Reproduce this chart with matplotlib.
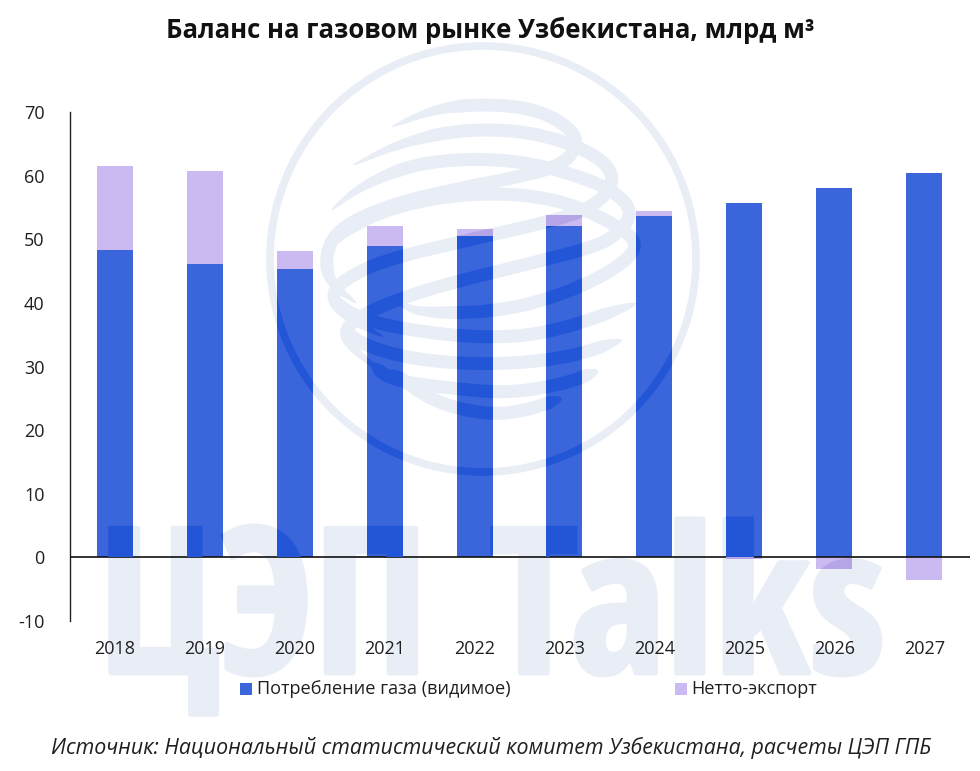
import numpy as np
import matplotlib
matplotlib.use('Agg')
import matplotlib.pyplot as plt
import matplotlib.patheffects as pe
from matplotlib.font_manager import FontProperties
from matplotlib.patches import Circle, PathPatch, Polygon
from matplotlib.path import Path
from matplotlib.text import TextPath
from matplotlib.transforms import Affine2D, IdentityTransform

years = ['2018', '2019', '2020', '2021', '2022', '2023', '2024', '2025', '2026', '2027']
consumption = [48.3, 46.1, 45.3, 48.9, 50.5, 52.1, 53.7, 55.7, 58.1, 60.4]
net_export = [13.2, 14.6, 2.9, 3.2, 1.1, 1.7, 0.7, -0.25, -1.8, -3.55]
y_ticks = [-10, 0, 10, 20, 30, 40, 50, 60, 70]

BLUE = '#3B66DB'
PURPLE = '#CBB9F1'
WM_LIGHT = '#E8EDF6'
WM_DARK = '#2356D6'
WM_PURPLE = '#B5A5E6'
TEXT = '#1F1F1F'
W, H = 980, 771

plt.rcParams['font.family'] = ['Open Sans', 'DejaVu Sans']
plt.rcParams['axes.unicode_minus'] = False

fig = plt.figure(figsize=(W / 100, H / 100), dpi=100)
ax = fig.add_axes([69.5 / W, 1 - 621 / H, (970 - 69.5) / W, (621 - 112) / H])
ax.patch.set_alpha(0)

x = np.arange(len(years))
ax.set_xlim(-0.505, 9.51)
ax.set_ylim(-10, 70)

bars_c = ax.bar(x, consumption, width=0.4, color=BLUE, zorder=2)
bottoms = [c if n > 0 else 0 for c, n in zip(consumption, net_export)]
bars_n = ax.bar(x, net_export, width=0.4, bottom=bottoms, color=PURPLE, zorder=2)

for s in ['top', 'right', 'bottom']:
    ax.spines[s].set_visible(False)
ax.spines['left'].set_color('#222222')
ax.spines['left'].set_linewidth(1)
ax.axhline(0, color='#111111', lw=1.2, zorder=6)
ax.set_yticks(y_ticks)
ax.set_xticks([])
ax.tick_params(axis='y', length=0, pad=18, labelsize=13, labelcolor=TEXT)

# подписи годов ниже области графика
to_px = Affine2D().scale(1, -1).translate(0, H)
for xi, year in zip(x, years):
    fig.text(xi * 90 + 115, 649, year, transform=to_px, ha='center', va='center',
             fontsize=13, color=TEXT)

fig.text(490, 30, 'Баланс на газовом рынке Узбекистана, млрд м³', transform=to_px,
         ha='center', va='center', fontsize=18.5, fontweight='bold', color='#111111')
fig.text(491, 748, 'Источник: Национальный статистический комитет Узбекистана, расчеты ЦЭП ГПБ',
         transform=to_px, ha='center', va='center', fontsize=15.4, style='italic', color=TEXT)

fig.text(257, 689, 'Потребление газа (видимое)', transform=to_px, ha='left', va='center',
         fontsize=13.1, color=TEXT)
fig.text(691, 689, 'Нетто-экспорт', transform=to_px, ha='left', va='center',
         fontsize=13.1, color=TEXT)
fig.add_artist(plt.Rectangle((240, 683), 12, 12, transform=to_px, color=BLUE, lw=0))
fig.add_artist(plt.Rectangle((675, 683), 12, 12, transform=to_px, color=PURPLE, lw=0))


# Водяной знак: логотип из лент и надпись ЦЭП Talks
def ribbon(points, width=13.0):
    pts = np.array(points, dtype=float) / 3 + [250, 30]
    for _ in range(4):
        q = 0.75 * pts[:-1] + 0.25 * pts[1:]
        r = 0.25 * pts[:-1] + 0.75 * pts[1:]
        pts = np.vstack([pts[0], np.column_stack([q, r]).reshape(-1, 2), pts[-1]])
    d = np.gradient(pts, axis=0)
    n = np.column_stack([-d[:, 1], d[:, 0]]) / np.hypot(d[:, 0], d[:, 1])[:, None]
    t = np.linspace(0, 1, len(pts))
    w = width / 2 * np.clip(np.minimum(t, 1 - t) * 7, 0.02, 1)[:, None]
    return np.vstack([pts + n * w, (pts - n * w)[::-1]])


strokes = [
    [(425, 290), (560, 235), (700, 222), (850, 235), (950, 285), (985, 335), (950, 395), (860, 430),
     (600, 480), (400, 530), (260, 600), (225, 680), (240, 760), (320, 820)],
    [(310, 405), (450, 340), (620, 300), (800, 300), (950, 335), (1060, 390), (1095, 450), (1050, 515),
     (960, 560), (700, 620), (400, 690), (280, 750), (240, 800), (300, 870), (400, 920)],
    [(245, 540), (330, 470), (480, 405), (650, 385), (820, 395), (960, 430), (1090, 480), (1150, 545),
     (1110, 605), (1040, 650), (800, 710), (520, 780), (340, 850), (280, 900), (310, 960), (400, 1030)],
    [(225, 680), (270, 610), (400, 540), (600, 495), (800, 490), (960, 520), (1090, 580), (1170, 640),
     (1110, 710), (950, 790), (750, 845), (510, 850), (440, 815)],
    [(240, 800), (310, 860), (470, 900), (700, 925), (900, 910), (1160, 820)],
    [(280, 900), (350, 950), (500, 990), (720, 1005), (950, 985), (1115, 930)],
    [(365, 1000), (420, 1050), (600, 1075), (780, 1090), (950, 1060), (1045, 1022)],
    [(420, 1020), (540, 1110), (680, 1150), (800, 1150), (935, 1105)],
]
ribbons = [ribbon(s) for s in strokes]

wm_font = FontProperties(family='Open Sans Condensed', weight='bold', size=146)
words = [('ЦЭП', 98, 673), ('Talks', 490, 673)]
WM_STROKE = 3.5


def add_logo(color, clip=None, zorder=1.5):
    items = [Circle((483, 259), 213, transform=to_px, fill=False, ec=color, lw=5.5)]
    items += [Polygon(r, closed=True, transform=to_px, fc=color, ec='none') for r in ribbons]
    for item in items:
        item.set_zorder(zorder)
        fig.add_artist(item)
        if clip is not None:
            item.set_clip_path(clip, IdentityTransform())


def add_word_paths(color, clip, zorder):
    for word, px, py in words:
        tp = TextPath((0, 0), word, prop=wm_font)
        tr = Affine2D().scale(100 / 72).translate(px, H - py)
        p = PathPatch(tp, transform=tr, fc=color, ec=color, lw=WM_STROKE, zorder=zorder)
        fig.add_artist(p)
        p.set_clip_path(clip, IdentityTransform())


def bars_path(bars):
    return Path.make_compound_path(*[b.get_path().transformed(b.get_transform()) for b in bars])


add_logo(WM_LIGHT, zorder=-2)
for word, px, py in words:
    t = fig.text(px, py, word, transform=to_px, ha='left', va='baseline', color=WM_LIGHT,
                 fontproperties=wm_font, zorder=-2)
    t.set_path_effects([pe.withStroke(linewidth=WM_STROKE, foreground=WM_LIGHT)])

clip_c = bars_path(bars_c)
clip_n = bars_path(bars_n)
add_logo(WM_DARK, clip_c, 5)
add_logo(WM_PURPLE, clip_n, 5)
add_word_paths(WM_DARK, clip_c, 5)
add_word_paths(WM_PURPLE, clip_n, 5)

fig.savefig('out.png', dpi=100)
